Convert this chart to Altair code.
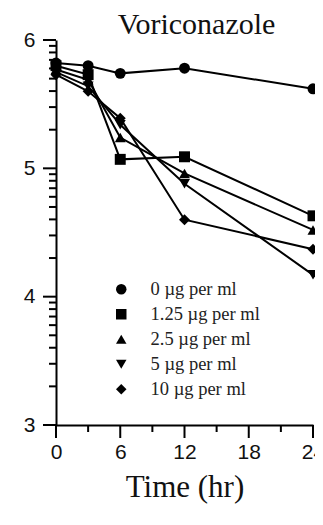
import math
import altair as alt
import pandas as pd

times = [0, 3, 6, 12, 24]
series_names = ["0 µg per ml", "1.25 µg per ml", "2.5 µg per ml", "5 µg per ml", "10 µg per ml"]
v0 = [5.82, 5.80, 5.74, 5.78, 5.62]
v125 = [5.80, 5.73, 5.07, 5.09, 4.63]
v25 = [5.77, 5.69, 5.24, 4.96, 4.52]
v5 = [5.75, 5.64, 5.34, 4.88, 4.17]
v10 = [5.73, 5.60, 5.39, 4.60, 4.37]
shapes = ["circle", "square", "triangle-up", "triangle-down", "diamond"]

x_ticks = [0, 6, 12, 18, 24]
x_minor = [3, 9, 15, 21]
y_decades = [3, 4, 5, 6]

rows = []
for name, vals in zip(series_names, [v0, v125, v25, v5, v10]):
    for t, v in zip(times, vals):
        rows.append({"series": name, "time": t, "value": v})
df = pd.DataFrame(rows)

y_minor = []
for d in y_decades[:-1]:
    for k in range(2, 10):
        y_minor.append(d + math.log10(k))

x_scale = alt.Scale(domain=[0, 24], nice=False, zero=False)
y_scale = alt.Scale(domain=[3, 6], nice=False, zero=False)

x_axis = alt.Axis(
    orient="bottom",
    values=x_ticks,
    format="d",
    ticks=False,
    title="Time (hr)",
    titleFont="Liberation Serif",
    titleFontSize=31,
    titleFontWeight="normal",
    titleColor="#111",
    titlePadding=10,
    labelFont="Liberation Sans",
    labelFontSize=21,
    labelColor="#111",
    labelPadding=16,
    labelFlush=False,
    labelOverlap=False,
    domainColor="black",
    domainWidth=2,
    grid=False,
)
y_axis = alt.Axis(
    orient="left",
    values=y_decades,
    format="d",
    ticks=False,
    title=None,
    labelFont="Liberation Sans",
    labelFontSize=21,
    labelColor="#111",
    labelPadding=21,
    labelFlush=False,
    labelOverlap=False,
    domainColor="black",
    domainWidth=2,
    grid=False,
)

shape_scale = alt.Scale(domain=series_names, range=shapes)

# axis tick marks (drawn through the shared scales)
def x_tick_layer(vals, length):
    d = pd.DataFrame({"time": vals})
    return alt.Chart(d).mark_tick(
        orient="vertical", color="black", thickness=2, size=length, yOffset=length / 2, opacity=1
    ).encode(x=alt.X("time:Q", scale=x_scale, axis=None), y=alt.value("height"))

def y_tick_layer(vals, length):
    d = pd.DataFrame({"value": vals})
    return alt.Chart(d).mark_tick(
        orient="horizontal", color="black", thickness=2, size=length, xOffset=-length / 2, opacity=1
    ).encode(y=alt.Y("value:Q", scale=y_scale, axis=None), x=alt.value(0))

lines = alt.Chart(df).mark_line(color="black", strokeWidth=2).encode(
    x=alt.X("time:Q", scale=x_scale, axis=x_axis),
    y=alt.Y("value:Q", scale=y_scale, axis=y_axis),
    detail="series:N",
)

points = alt.Chart(df).mark_point(filled=True, color="black", opacity=1, size=120).encode(
    x=alt.X("time:Q", scale=x_scale, axis=None),
    y=alt.Y("value:Q", scale=y_scale, axis=None),
    shape=alt.Shape(
        "series:N",
        scale=shape_scale,
        sort=series_names,
        legend=alt.Legend(
            title=None,
            orient="none",
            legendX=56,
            legendY=240,
            labelFont="Liberation Serif",
            labelFontSize=18.5,
            labelColor="#222",
            labelOffset=20,
            symbolSize=110,
            symbolFillColor="black",
            symbolStrokeColor="black",
            symbolStrokeWidth=0,
            rowPadding=6,
        ),
    ),
)

chart = (
    alt.layer(
        lines,
        points,
        x_tick_layer(x_ticks, 13),
        x_tick_layer(x_minor, 7),
        y_tick_layer(y_decades, 13),
        y_tick_layer(y_minor, 7),
    )
    .resolve_axis(x="independent", y="independent")
    .properties(
        width=257,
        height=385,
        title=alt.TitleParams(
            "Voriconazole",
            font="Liberation Serif",
            fontSize=30,
            fontWeight="normal",
            color="#111",
            anchor="middle",
            frame="group",
            dx=12,
            dy=17,
            offset=6,
        ),
        autosize=alt.AutoSizeParams(type="none"),
        padding={"left": 48, "top": 32, "right": 2, "bottom": 92},
        background="white",
    )
    .configure_view(stroke=None)
)

chart.save("out.html", embed_options={"renderer": "svg", "actions": False})
